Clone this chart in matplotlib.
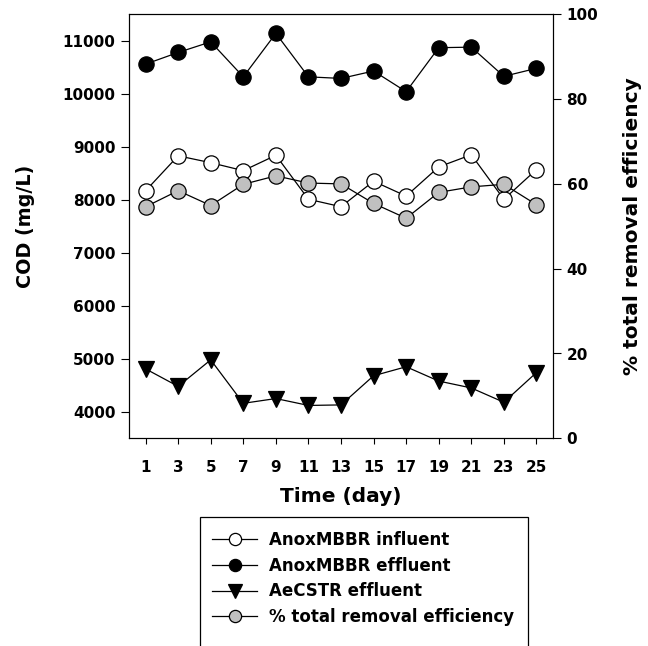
import numpy as np
import matplotlib
matplotlib.use('Agg')
import matplotlib.pyplot as plt
from matplotlib.patches import Rectangle

plt.rcParams['font.family'] = ['DejaVu Sans']
plt.rcParams['font.weight'] = 'bold'

# data
days = [1, 3, 5, 7, 9, 11, 13, 15, 17, 19, 21, 23, 25]
anox_influent = [8170, 8830, 8700, 8550, 8840, 8010, 7870, 8350, 8070, 8620, 8850, 8010, 8570]
anox_effluent = [10560, 10780, 10980, 10320, 11140, 10320, 10290, 10430, 10040, 10870, 10880, 10330, 10480]
aecstr_effluent = [4810, 4480, 4980, 4160, 4250, 4120, 4130, 4680, 4850, 4580, 4450, 4180, 4740]
removal_eff = [54.6, 58.4, 54.9, 59.9, 61.9, 60.2, 60.0, 55.4, 51.9, 58.0, 59.3, 59.9, 55.1]

fig = plt.figure(figsize=(6.48, 6.46), dpi=100)
ax = fig.add_axes([129.3/648, 1-438.3/646, (552.7-129.3)/648, (438.3-14.3)/646])
ax2 = ax.twinx()

ms = 11
l1, = ax.plot(days, anox_influent, '-o', color='black', lw=0.9, ms=ms,
              mfc='white', mec='black', mew=0.9, label='AnoxMBBR influent')
l2, = ax.plot(days, anox_effluent, '-o', color='black', lw=0.9, ms=ms,
              mfc='black', mec='black', mew=0.9, label='AnoxMBBR effluent')
l3, = ax.plot(days, aecstr_effluent, '-v', color='black', lw=0.9, ms=ms + 1,
              mfc='black', mec='black', mew=0.9, label='AeCSTR effluent')
l4, = ax2.plot(days, removal_eff, '-o', color='black', lw=0.9, ms=ms,
               mfc='#c0c0c0', mec='black', mew=0.9, label='% total removal efficiency')

ax.set_xlim(0, 26)
ax.set_ylim(3500, 11500)
ax2.set_ylim(0, 100)
ax.set_xticks(days)
ax.set_yticks(np.arange(4000, 11001, 1000))
ax2.set_yticks(np.arange(0, 101, 20))

ax.tick_params(axis='y', direction='out', length=6, width=0.8, labelsize=11, pad=4)
ax.tick_params(axis='x', direction='out', length=4.5, width=0.8, labelsize=11, pad=11)
ax2.tick_params(axis='y', direction='out', length=6, width=0.8, labelsize=11, pad=4)
for a in (ax, ax2):
    for s in a.spines.values():
        s.set_linewidth(0.8)

ax.set_xlabel('Time (day)', fontsize=14.5, fontweight='bold', labelpad=9)
ax.set_ylabel('COD (mg/L)', fontsize=13.8, fontweight='bold', labelpad=20)
ax2.set_ylabel('% total removal efficiency', fontsize=14.5, fontweight='bold', labelpad=18)

# legend box runs off the bottom of the figure
fig.patches.append(Rectangle((200/648, -0.05), (528-200)/648, (1-517/646) + 0.05,
                             transform=fig.transFigure, fill=False,
                             edgecolor='black', lw=0.9))
fig.legend(handles=[l1, l2, l3, l4], loc='upper left',
           bbox_to_anchor=(212/648, 1-531/646), frameon=False,
           fontsize=12, handlelength=2.7, handletextpad=0.7, markerscale=0.8,
           labelspacing=0.46, borderpad=0, borderaxespad=0)

fig.savefig('out.png', dpi=100)
